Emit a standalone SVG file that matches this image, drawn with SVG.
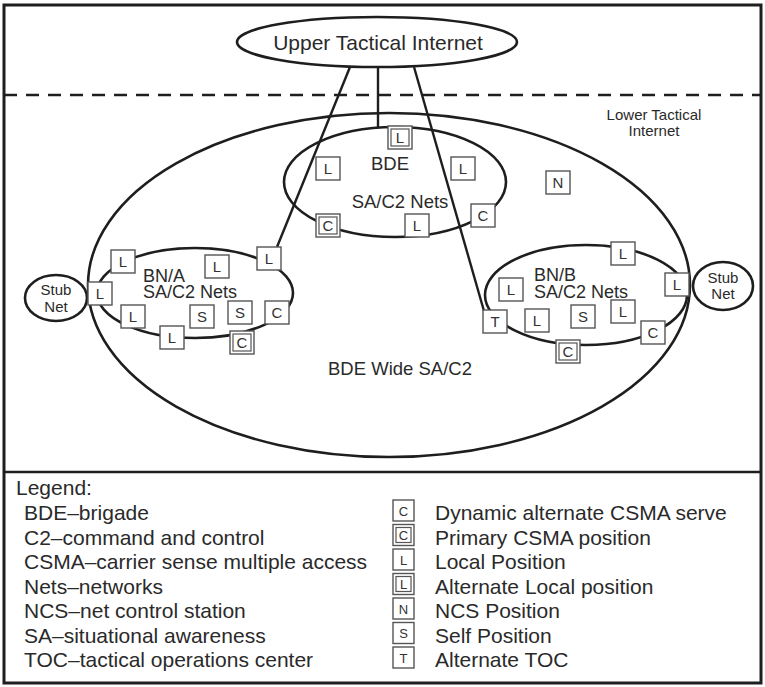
<svg xmlns="http://www.w3.org/2000/svg" width="765" height="687" viewBox="0 0 765 687">
<defs>
<style>
.t{font-family:"Liberation Sans",Arial,sans-serif;fill:#2a2a2a}
.el{fill:none;stroke:#1e1e1e;stroke-width:2.6}
.ln{fill:none;stroke:#1e1e1e;stroke-width:2.4}
.bx{fill:#fff;stroke:#555;stroke-width:1.4}
.bi{fill:none;stroke:#555;stroke-width:1.2}
.bl{font-family:"Liberation Sans",Arial,sans-serif;font-size:15px;fill:#333;text-anchor:middle}
.lg{font-family:"Liberation Sans",Arial,sans-serif;font-size:21px;fill:#2a2a2a}
.ll{font-family:"Liberation Sans",Arial,sans-serif;font-size:13px;fill:#333;text-anchor:middle}
</style>
</defs>
<rect x="0" y="0" width="765" height="687" fill="#fff"/>
<rect x="4" y="5" width="757" height="678" fill="none" stroke="#1e1e1e" stroke-width="3"/>
<line x1="4" y1="95" x2="761" y2="95" stroke="#1e1e1e" stroke-width="2.6" stroke-dasharray="13,9"/>
<line x1="4" y1="472" x2="761" y2="472" stroke="#1e1e1e" stroke-width="2.6"/>

<g id="bde-wide">
<ellipse class="el" cx="389" cy="285" rx="301" ry="172"/>
<text class="t" x="400" y="375" font-size="18.5" text-anchor="middle">BDE Wide SA/C2</text>
</g>
<g id="upper">
<ellipse class="el" cx="377" cy="42" rx="140" ry="25"/>
<text class="t" x="378" y="50" font-size="21" text-anchor="middle">Upper Tactical Internet</text>
</g>
<g id="lower-label">
<text class="t" x="654" y="120" font-size="15" text-anchor="middle">Lower Tactical</text>
<text class="t" x="654" y="136" font-size="15" text-anchor="middle">Internet</text>
</g>

<g id="connectors">
<line class="ln" x1="350" y1="67" x2="277" y2="247"/>
<line class="ln" x1="378" y1="67" x2="378" y2="128"/>
<line class="ln" x1="414" y1="67" x2="484" y2="311"/>
</g>

<g id="bde">
<ellipse class="el" cx="395" cy="182" rx="111" ry="55"/>
<text class="t" x="390" y="170" font-size="18.5" text-anchor="middle">BDE</text>
<text class="t" x="400" y="208" font-size="18.5" text-anchor="middle">SA/C2 Nets</text>
</g>
<g id="bna">
<ellipse class="el" cx="195" cy="293" rx="98" ry="45"/>
<text class="t" x="143" y="282" font-size="18">BN/A</text>
<text class="t" x="143" y="298" font-size="18">SA/C2 Nets</text>
</g>
<g id="bnb">
<ellipse class="el" cx="586" cy="295" rx="101" ry="50"/>
<text class="t" x="534" y="281" font-size="18">BN/B</text>
<text class="t" x="534" y="298" font-size="18">SA/C2 Nets</text>
</g>
<g id="stub-left">
<ellipse class="el" cx="56" cy="298" rx="31" ry="23"/>
<text class="t" x="56" y="295" font-size="15" text-anchor="middle">Stub</text>
<text class="t" x="56" y="312" font-size="15" text-anchor="middle">Net</text>
</g>
<g id="stub-right">
<ellipse class="el" cx="723" cy="286" rx="30" ry="24"/>
<text class="t" x="723" y="283" font-size="15" text-anchor="middle">Stub</text>
<text class="t" x="723" y="299" font-size="15" text-anchor="middle">Net</text>
</g>

<g id="boxes">
<g id="bde-L-alt"><rect class="bx" x="388" y="126" width="24" height="23"/><rect class="bi" x="391" y="129" width="18" height="17"/><text class="bl" x="400" y="143">L</text></g>
<g id="bde-L1"><rect class="bx" x="316" y="157" width="24" height="23"/><text class="bl" x="328" y="174">L</text></g>
<g id="bde-L2"><rect class="bx" x="451" y="157" width="24" height="23"/><text class="bl" x="463" y="174">L</text></g>
<g id="bde-C-pri"><rect class="bx" x="316" y="214" width="24" height="23"/><rect class="bi" x="319" y="217" width="18" height="17"/><text class="bl" x="328" y="231">C</text></g>
<g id="bde-L3"><rect class="bx" x="405" y="214" width="24" height="23"/><text class="bl" x="417" y="231">L</text></g>
<g id="bde-C"><rect class="bx" x="471" y="204" width="24" height="23"/><text class="bl" x="483" y="221">C</text></g>
<g id="ncs"><rect class="bx" x="546" y="171" width="24" height="23"/><text class="bl" x="558" y="188">N</text></g>
<g id="bna-L1"><rect class="bx" x="111" y="250" width="24" height="23"/><text class="bl" x="123" y="267">L</text></g>
<g id="bna-Lstub"><rect class="bx" x="88" y="282" width="24" height="23"/><text class="bl" x="100" y="299">L</text></g>
<g id="bna-L2"><rect class="bx" x="205" y="255" width="24" height="23"/><text class="bl" x="217" y="272">L</text></g>
<g id="bna-L3"><rect class="bx" x="257" y="247" width="24" height="23"/><text class="bl" x="269" y="264">L</text></g>
<g id="bna-L4"><rect class="bx" x="121" y="305" width="24" height="23"/><text class="bl" x="133" y="322">L</text></g>
<g id="bna-S1"><rect class="bx" x="190" y="305" width="24" height="23"/><text class="bl" x="202" y="322">S</text></g>
<g id="bna-S2"><rect class="bx" x="228" y="301" width="24" height="23"/><text class="bl" x="240" y="318">S</text></g>
<g id="bna-C"><rect class="bx" x="265" y="301" width="24" height="23"/><text class="bl" x="277" y="318">C</text></g>
<g id="bna-L5"><rect class="bx" x="160" y="326" width="24" height="23"/><text class="bl" x="172" y="343">L</text></g>
<g id="bna-C-pri"><rect class="bx" x="230" y="331" width="24" height="23"/><rect class="bi" x="233" y="334" width="18" height="17"/><text class="bl" x="242" y="348">C</text></g>
<g id="bnb-L1"><rect class="bx" x="611" y="242" width="24" height="23"/><text class="bl" x="623" y="259">L</text></g>
<g id="bnb-Lstub"><rect class="bx" x="665" y="273" width="24" height="23"/><text class="bl" x="677" y="290">L</text></g>
<g id="bnb-L2"><rect class="bx" x="499" y="278" width="24" height="23"/><text class="bl" x="511" y="295">L</text></g>
<g id="bnb-T"><rect class="bx" x="483" y="310" width="24" height="23"/><text class="bl" x="495" y="327">T</text></g>
<g id="bnb-L3"><rect class="bx" x="525" y="309" width="24" height="23"/><text class="bl" x="537" y="326">L</text></g>
<g id="bnb-S"><rect class="bx" x="571" y="305" width="24" height="23"/><text class="bl" x="583" y="322">S</text></g>
<g id="bnb-L4"><rect class="bx" x="611" y="300" width="24" height="23"/><text class="bl" x="623" y="317">L</text></g>
<g id="bnb-C"><rect class="bx" x="641" y="321" width="24" height="23"/><text class="bl" x="653" y="338">C</text></g>
<g id="bnb-C-pri"><rect class="bx" x="556" y="340" width="24" height="23"/><rect class="bi" x="559" y="343" width="18" height="17"/><text class="bl" x="568" y="357">C</text></g>
</g>

<g id="legend">
<text class="lg" x="16" y="495">Legend:</text>
<text class="lg" x="24" y="520">BDE–brigade</text>
<text class="lg" x="24" y="544.5">C2–command and control</text>
<text class="lg" x="24" y="569">CSMA–carrier sense multiple access</text>
<text class="lg" x="24" y="593.5">Nets–networks</text>
<text class="lg" x="24" y="618">NCS–net control station</text>
<text class="lg" x="24" y="642.5">SA–situational awareness</text>
<text class="lg" x="24" y="667">TOC–tactical operations center</text>

<rect class="bx" x="393" y="500" width="21" height="21"/><text class="ll" x="403.5" y="515.5">C</text>
<rect class="bx" x="393" y="524.5" width="21" height="21"/><rect class="bi" x="396" y="527.5" width="15" height="15"/><text class="ll" x="403.5" y="540">C</text>
<rect class="bx" x="393" y="549" width="21" height="21"/><text class="ll" x="403.5" y="564.5">L</text>
<rect class="bx" x="393" y="573.5" width="21" height="21"/><rect class="bi" x="396" y="576.5" width="15" height="15"/><text class="ll" x="403.5" y="589">L</text>
<rect class="bx" x="393" y="598" width="21" height="21"/><text class="ll" x="403.5" y="613.5">N</text>
<rect class="bx" x="393" y="622.5" width="21" height="21"/><text class="ll" x="403.5" y="638">S</text>
<rect class="bx" x="393" y="647" width="21" height="21"/><text class="ll" x="403.5" y="662.5">T</text>

<text class="lg" x="435" y="520">Dynamic alternate CSMA serve</text>
<text class="lg" x="435" y="544.5">Primary CSMA position</text>
<text class="lg" x="435" y="569">Local Position</text>
<text class="lg" x="435" y="593.5">Alternate Local position</text>
<text class="lg" x="435" y="618">NCS Position</text>
<text class="lg" x="435" y="642.5">Self Position</text>
<text class="lg" x="435" y="667">Alternate TOC</text>
</g>
</svg>
